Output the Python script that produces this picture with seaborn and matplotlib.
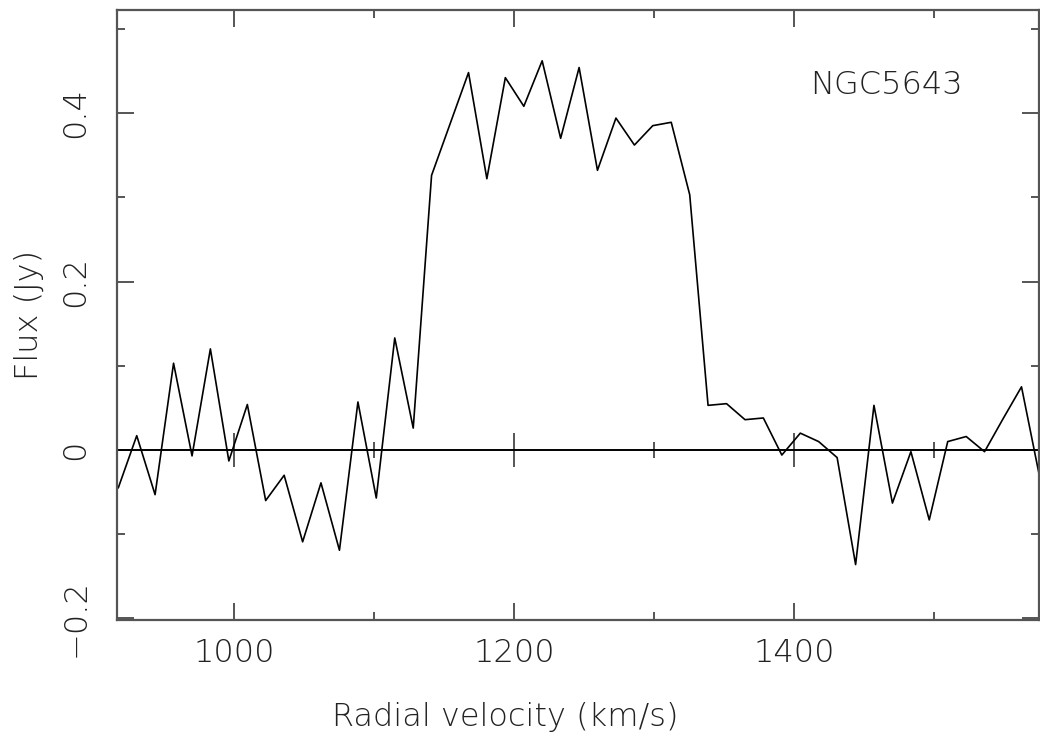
import matplotlib
matplotlib.use("Agg")
import matplotlib.pyplot as plt
from matplotlib.ticker import MultipleLocator, FixedLocator
import seaborn as sns
import pandas as pd

# ---- data ----
velocity = [917.3, 930.5, 943.6, 956.8, 970.0, 983.1, 996.3, 1009.5, 1022.6, 1035.8,
            1049.0, 1062.1, 1075.3, 1088.5, 1101.6, 1114.8, 1128.0, 1141.1, 1154.3, 1167.5,
            1180.6, 1193.8, 1207.0, 1220.1, 1233.3, 1246.5, 1259.6, 1272.8, 1286.0, 1299.1,
            1312.3, 1325.5, 1338.6, 1351.8, 1365.0, 1378.1, 1391.3, 1404.5, 1417.6, 1430.8,
            1444.0, 1457.1, 1470.3, 1483.5, 1496.6, 1509.8, 1523.0, 1536.1, 1549.3, 1562.5,
            1575.7]
flux = [-0.045, 0.017, -0.053, 0.103, -0.007, 0.120, -0.013, 0.054, -0.060, -0.030,
        -0.109, -0.039, -0.119, 0.057, -0.057, 0.133, 0.026, 0.326, 0.387, 0.448,
        0.322, 0.442, 0.408, 0.462, 0.370, 0.454, 0.332, 0.394, 0.362, 0.385,
        0.389, 0.303, 0.053, 0.055, 0.036, 0.038, -0.006, 0.020, 0.010, -0.009,
        -0.136, 0.053, -0.063, -0.002, -0.083, 0.010, 0.016, -0.002, 0.037, 0.075,
        -0.034]
x_major_ticks = [1000, 1200, 1400]
y_major_ticks = [-0.2, 0, 0.2, 0.4]
y_tick_labels = ["\u22120.2", "0", "0.2", "0.4"]
title_text = "NGC5643"
x_label = "Radial velocity (km/s)"
y_label = "Flux (Jy)"

df = pd.DataFrame({"velocity": velocity, "flux": flux})

sns.set_theme(style="white")
plt.rcParams["font.family"] = ["DejaVu Sans"]
FW = 200  # extra-light weight

W, H = 1040, 751
fig = plt.figure(figsize=(W / 100, H / 100), dpi=100)
ax = fig.add_axes([117 / W, 1 - 620 / H, (1039 - 117) / W, (620 - 10) / H])

sns.lineplot(data=df, x="velocity", y="flux", ax=ax, color="black",
             linewidth=1.2, estimator=None, sort=False)

ax.set_xlim(916.4, 1575.0)
ax.set_ylim(-0.2018, 0.5223)

ax.axhline(0, color="black", linewidth=1.4, zorder=1)

spine_col = "#555555"
for s in ax.spines.values():
    s.set_visible(True)
    s.set_color(spine_col)
    s.set_linewidth(1.6)

ax.xaxis.set_major_locator(FixedLocator(x_major_ticks))
ax.xaxis.set_minor_locator(MultipleLocator(100))
ax.yaxis.set_major_locator(FixedLocator(y_major_ticks))
ax.yaxis.set_minor_locator(MultipleLocator(0.1))
ax.set_yticklabels(y_tick_labels)

tick_col = "#222222"
ax.tick_params(which="both", direction="in", top=True, right=True, bottom=True, left=True,
               color=spine_col, width=1.4)
ax.tick_params(which="major", length=12.2)
ax.tick_params(which="minor", length=5.8)
ax.tick_params(axis="x", which="major", labelsize=23, pad=13, labelcolor=tick_col)
ax.tick_params(axis="y", which="major", labelsize=23, pad=19, labelcolor=tick_col)
for lab in ax.get_yticklabels():
    lab.set_rotation(90)
    lab.set_va("center")
    lab.set_fontweight(FW)
for lab in ax.get_xticklabels():
    lab.set_fontweight(FW)

# axis along zero with crossing ticks
y0, y1 = ax.get_ylim()
zero_frac = (0 - y0) / (y1 - y0)
sec = ax.secondary_xaxis(zero_frac)
sec.spines["bottom"].set_visible(False)
sec.spines["top"].set_visible(False)
sec.xaxis.set_major_locator(FixedLocator(x_major_ticks))
sec.xaxis.set_minor_locator(MultipleLocator(100))
sec.tick_params(which="both", direction="inout", color=spine_col, width=1.4,
                labelbottom=False, labeltop=False)
sec.tick_params(which="major", length=24.4)
sec.tick_params(which="minor", length=11.5)

ax.set_xlabel(x_label, fontsize=23, color=tick_col, fontweight=FW)
ax.set_ylabel(y_label, fontsize=23, color=tick_col, fontweight=FW)
ax.xaxis.set_label_coords(0.421, -0.134)
ax.yaxis.set_label_coords(-0.079, 0.5)

ax.text(0.7516, 0.877, title_text, transform=ax.transAxes, fontsize=23,
        color=tick_col, fontweight=FW, ha="left", va="center")

fig.savefig("out.png", dpi=100)
